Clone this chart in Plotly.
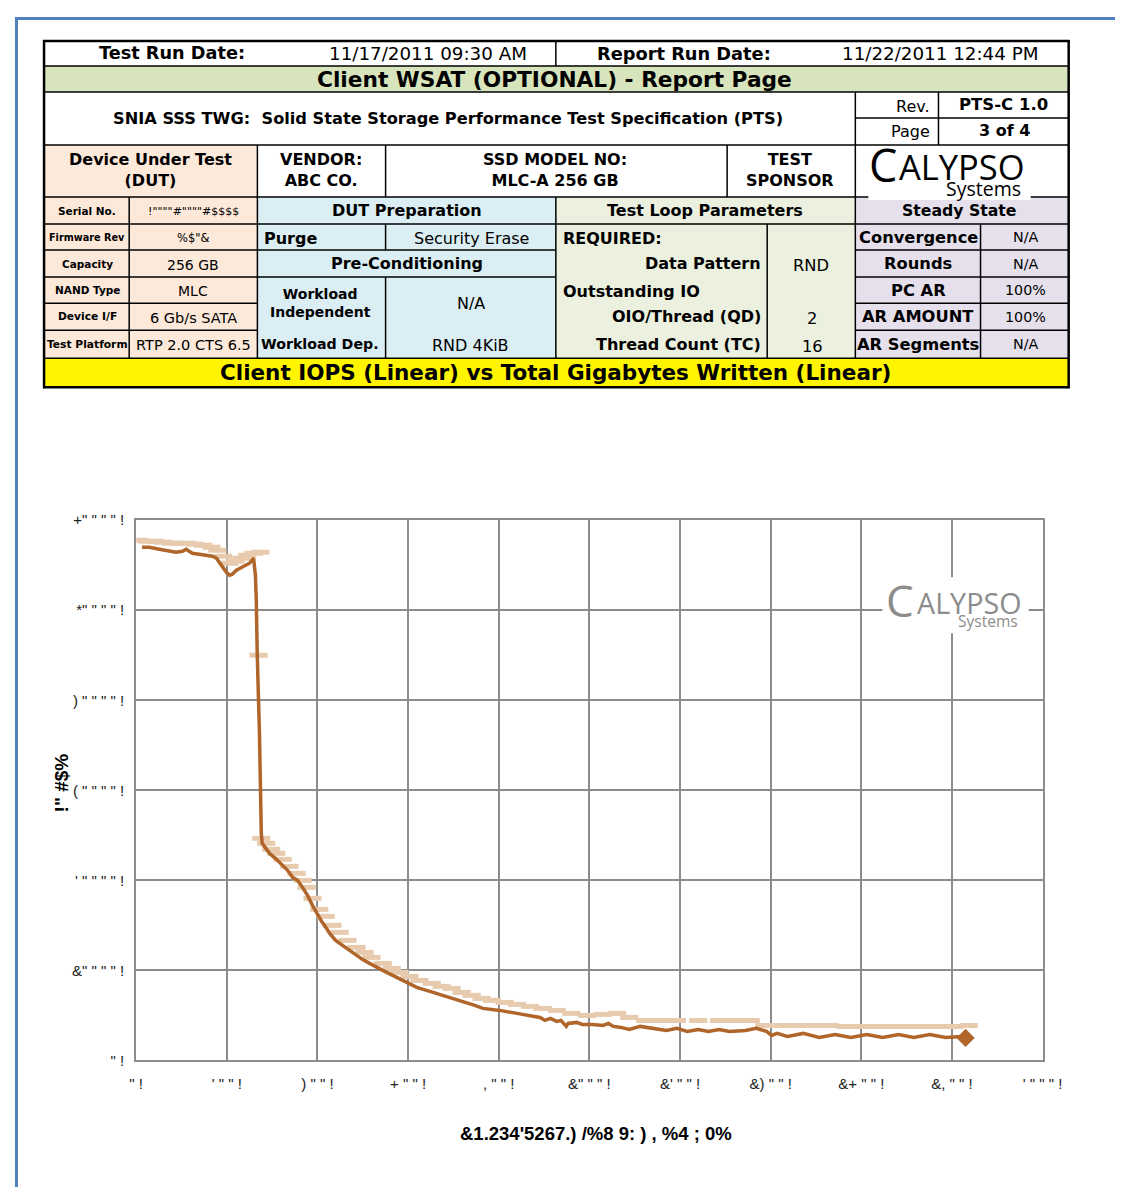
import plotly.graph_objects as go

# ---- chart data ----
gb_written = [13, 29, 51, 73, 88, 102, 110, 124, 139, 155, 168, 177, 183, 190, 199, 206, 212, 221, 234, 250,
              259, 263, 265, 267, 272, 274, 276, 278, 285, 294, 307, 323, 334, 345, 356, 367, 378, 389, 398, 409,
              420, 427, 440, 455, 471, 486, 499, 515, 530, 544, 566, 588, 603, 619, 648, 670, 692, 725, 747, 765,
              802, 840, 869, 891, 902, 914, 928, 937, 949, 953, 972, 984, 1007, 1030, 1042, 1053, 1070, 1088, 1112,
              1147, 1170, 1193, 1216, 1240, 1263, 1286, 1309, 1344, 1368, 1391, 1402, 1414, 1437, 1472, 1507,
              1542, 1577, 1612, 1647, 1682, 1716, 1751, 1786, 1821, 1830]
iops = [57000, 57000, 56778, 56556, 56444, 56556, 56778, 56333, 56222, 56111, 56000, 55778, 55333, 54778, 54222,
        53889, 54000, 54444, 54778, 55222, 55778, 53889, 51111, 45222, 36333, 28889, 25222, 24111, 23556, 23000,
        22444, 21667, 21111, 20333, 20000, 19222, 18333, 17222, 16333, 15444, 14667, 14111, 13333, 12778, 12222,
        11667, 11222, 10778, 10333, 10000, 9444, 8889, 8444, 8111, 7667, 7333, 7000, 6444, 6111, 5778, 5556,
        5222, 5000, 4778, 4444, 4667, 4333, 4444, 3778, 4111, 4222, 4000, 4000, 3889, 4111, 3778, 3667, 3444,
        3778, 3556, 3333, 3556, 3222, 3444, 3222, 3444, 3222, 3333, 3556, 3222, 2778, 3000, 2667, 3000, 2556,
        2889, 2556, 2889, 2556, 2889, 2556, 2889, 2556, 2667, 2500]

# lighter (shadow) series drawn as dash markers
gb_shadow = [7, 24, 42, 60, 77, 95, 113, 130, 148, 166, 179, 192, 206, 219, 232, 245, 259, 274, 270,
             276, 287, 298, 309, 323, 338, 354, 367, 376, 389, 404, 418, 433, 449, 466, 486, 504, 519, 544, 564,
             581, 603, 625, 652, 674, 696, 718, 740, 762, 785, 813, 840, 869, 897, 928, 960, 995, 1030, 1061,
             1088, 1123, 1158, 1193, 1240, 1286, 1321, 1356, 1386, 1426, 1461, 1495, 1530, 1565, 1600, 1635,
             1670, 1705, 1740, 1775, 1805, 1837]
iops_shadow = [57778, 57667, 57667, 57556, 57444, 57444, 57444, 57333, 57222, 57000, 56667, 56000, 55222, 55444,
               55778, 56111, 56333, 56444, 45000,
               24667, 24111, 23444, 23000, 22333, 21556, 20778, 20000, 19222, 18000, 16778, 16000, 15000, 14222,
               13333, 12556, 12000, 11444, 10778, 10222, 9778, 9333, 8889, 8556, 8222, 8000, 7556, 7222, 6889,
               6667, 6444, 6222, 6000, 5778, 5556, 5222, 5000, 5111, 5222, 4778, 4444, 4444, 4444, 4444, 4444,
               4444, 4444, 3889, 3889, 3889, 3889, 3889, 3778, 3778, 3778, 3778, 3778, 3778, 3778, 3778, 3889]

x_ticks = [0, 200, 400, 600, 800, 1000, 1200, 1400, 1600, 1800, 2000]
x_tick_text = ['" !', '\' " " !', ') " " !', '+ " " !', ', " " !', '&" " " !', '&\' " " !', '&) " " !',
               '&+ " " !', '&, " " !', '\' " " " !']
y_ticks = [0, 10000, 20000, 30000, 40000, 50000, 60000]
y_tick_text = ['" !', '&" " " " !', '\' " " " " !', '( " " " " !', ') " " " " !', '*" " " " !', '+" " " " !']
x_title = "&1.234'5267.) /%8 9: ) , %4 ; 0%"
y_title = '!" #$%'

# figure size inside the 8px body margin; the snapshot comes back slightly
# shrunk and offset, so page positions are mapped from the wanted picture positions
W, H = 1127, 1187
OFF = 8
SX, BX = 0.9745, 8.2
SY, BY = 0.9853, 9.1
FONT = "DejaVu Sans"
LOGO = "Open Sans"


def X(t):
    return ((t - BX) / SX - OFF) / W


def Y(t):
    return 1 - ((t - BY) / SY - OFF) / H


fig = go.Figure()

fig.add_trace(go.Scatter(x=gb_shadow, y=iops_shadow, mode="markers",
                         marker=dict(symbol="line-ew", size=13, line=dict(width=5, color="#E8CBAE")),
                         hoverinfo="skip"))
fig.add_trace(go.Scatter(x=gb_written, y=iops, mode="lines",
                         line=dict(color="#B0652A", width=3.5), hoverinfo="skip"))
fig.add_trace(go.Scatter(x=gb_written[-1:], y=iops[-1:], mode="markers",
                         marker=dict(symbol="diamond", size=14, color="#B0652A"), hoverinfo="skip"))

grid = "#8C8C8C"
tick_font = dict(family="Liberation Sans", size=15, color="#222")
fig.update_layout(
    width=W, height=H, margin=dict(l=0, r=0, t=0, b=0),
    paper_bgcolor="white", plot_bgcolor="white", showlegend=False,
    font=dict(family=FONT, color="black"),
    xaxis=dict(domain=[X(137), X(1042)], range=[0, 2000], tickvals=x_ticks, ticktext=x_tick_text,
               showgrid=True, gridcolor=grid, gridwidth=2, showline=True, linecolor=grid, linewidth=2,
               mirror=True, zeroline=False, ticks="", ticklabelstandoff=9, tickfont=tick_font),
    yaxis=dict(domain=[Y(1060), Y(520)], range=[0, 60000], tickvals=y_ticks, ticktext=y_tick_text,
               showgrid=True, gridcolor=grid, gridwidth=2, showline=True, linecolor=grid, linewidth=2,
               mirror=True, zeroline=False, ticks="", ticklabelstandoff=7, tickfont=tick_font),
)

shapes = []
annots = []


def rect(x0, y0, x1, y1, color):
    shapes.append(dict(type="rect", xref="paper", yref="paper", x0=X(x0), x1=X(x1), y0=Y(y0), y1=Y(y1),
                       fillcolor=color, line=dict(width=0), layer="above"))


def hline(y, x0, x1, w=1.5, color="black"):
    shapes.append(dict(type="line", xref="paper", yref="paper", x0=X(x0), x1=X(x1), y0=Y(y), y1=Y(y),
                       line=dict(color=color, width=w), layer="above"))


def vline(x, y0, y1, w=1.5, color="black"):
    shapes.append(dict(type="line", xref="paper", yref="paper", x0=X(x), x1=X(x), y0=Y(y0), y1=Y(y1),
                       line=dict(color=color, width=w), layer="above"))


def text(x, y, s, size=16, bold=False, anchor="center", color="black", family=FONT):
    if bold:
        s = "<b>" + s + "</b>"
    annots.append(dict(xref="paper", yref="paper", x=X(x), y=Y(y), text=s, showarrow=False,
                       xanchor=anchor, yanchor="middle", align=anchor if anchor != "center" else "center",
                       font=dict(size=size, family=family, color=color)))


# page border (as close to the top-left corner as the figure reaches)
shapes.append(dict(type="line", xref="paper", yref="paper", x0=0, x1=1, y0=1 - 1.5 / H, y1=1 - 1.5 / H,
                   line=dict(color="#4F81BD", width=3), layer="above"))
shapes.append(dict(type="line", xref="paper", yref="paper", x0=1.5 / W, x1=1.5 / W, y0=0, y1=1,
                   line=dict(color="#4F81BD", width=3), layer="above"))

# cell fills
rect(45, 66, 1068, 92, "#D7E4BC")
rect(45, 145, 258, 358, "#FDE9D9")
rect(258, 197, 556, 358, "#DAEEF3")
rect(556, 197, 855, 358, "#EBF1DE")
rect(855, 197, 1068, 358, "#E5E0EC")
rect(45, 358, 1068, 387, "#FFF500")

# table lines
for yy in (66, 92, 145, 197, 358):
    hline(yy, 45, 1068)
hline(118, 855, 1068)
for yy in (224, 250, 277, 303, 330):
    hline(yy, 45, 258)
    hline(yy, 855, 1068)
for yy in (224, 250, 277):
    hline(yy, 258, 556)
hline(224, 556, 855)
vline(556, 41, 66)
vline(855, 92, 145)
vline(938, 92, 145)
for xx in (258, 386, 727, 855):
    vline(xx, 145, 197)
for xx in (130, 258, 556, 855):
    vline(xx, 197, 358)
vline(386, 224, 250)
vline(386, 277, 358)
vline(767, 224, 358)
vline(980, 224, 358)
# outer frame
hline(41, 44, 1069, w=2.5)
hline(387, 44, 1069, w=2.5)
vline(45, 40, 388, w=2.5)
vline(1068, 40, 388, w=2.5)
# white band under the logo
rect(868, 193, 1030, 200, "white")
# white box behind the chart watermark
rect(882, 577, 1028, 633, "white")

fig.update_layout(shapes=shapes)

# header rows
text(173, 53, "Test Run Date:", 17.7, True)
text(428, 53, "11/17/2011 09:30 AM", 18.3)
text(684, 53, "Report Run Date:", 17.8, True)
text(940, 53, "11/22/2011 12:44 PM", 18.3)
text(555, 79, "Client WSAT (OPTIONAL) - Report Page", 21.7, True)
text(448, 118, "SNIA SSS TWG:  Solid State Storage Performance Test Specification (PTS)", 16.2, True)
text(932, 106, "Rev.", 16, anchor="right")
text(1003, 104, "PTS-C 1.0", 16.5, True)
text(932, 131, "Page", 16, anchor="right")
text(1004, 130, "3 of 4", 16, True)
text(151, 170, "Device Under Test<br>(DUT)", 16, True)
text(322, 170, "VENDOR:<br>ABC CO.", 16, True)
text(555, 170, "SSD MODEL NO:<br>MLC-A 256 GB", 16, True)
text(790, 170, "TEST<br>SPONSOR", 16, True)

# logo in the header
text(899, 164, "C", 45, anchor="right", family=LOGO)
text(897, 166, "ALYPSO", 34.5, anchor="left", family=LOGO)
text(983, 188, "Systems", 19.5, family=LOGO)

# DUT block
rows = [210.5, 237, 263.5, 290, 316.5, 344]
dut_labels = ["Serial No.", "Firmware Rev", "Capacity", "NAND Type", "Device I/F", "Test Platform"]
dut_sizes = [10.5, 9.7, 10.5, 10.5, 10.7, 10.7]
dut_values = ['!""""#""""#$$$$', '%$"&', "256 GB", "MLC", "6 Gb/s SATA", "RTP 2.0 CTS 6.5"]
val_sizes = [11, 11.5, 14, 14, 14.5, 14.5]
for r, lab, ls, v, vs in zip(rows, dut_labels, dut_sizes, dut_values, val_sizes):
    text(88, r, lab, ls, True)
    text(194, r + 1, v, vs)

# DUT preparation
text(407, rows[0], "DUT Preparation", 16, True)
text(263, rows[1] + 1, "Purge", 16, True, anchor="left")
text(472, rows[1] + 1, "Security Erase", 16)
text(407, rows[2], "Pre-Conditioning", 16, True)
text(321, 303, "Workload<br>Independent", 14, True)
text(471, 303, "N/A", 16)
text(321, 344, "Workload Dep.", 14.2, True)
text(471, 345, "RND 4KiB", 16)

# test loop parameters
text(705, rows[0], "Test Loop Parameters", 16, True)
text(561, rows[1] + 1, "REQUIRED:", 16, True, anchor="left")
text(763, rows[2], "Data Pattern", 16, True, anchor="right")
text(811, 265, "RND", 16.3)
text(561, 291, "Outstanding IO", 16, True, anchor="left")
text(763, 316, "OIO/Thread (QD)", 16, True, anchor="right")
text(812, 318, "2", 16.3)
text(763, 344, "Thread Count (TC)", 16, True, anchor="right")
text(812, 346, "16", 16.3)

# steady state
text(959, rows[0], "Steady State", 15.7, True)
ss_labels = ["Convergence", "Rounds", "PC AR", "AR AMOUNT", "AR Segments"]
ss_values = ["N/A", "N/A", "100%", "100%", "N/A"]
for r, lab, v in zip(rows[1:], ss_labels, ss_values):
    text(918, r, lab, 16.3, True)
    text(1025, r, v, 14.3)

text(556, 372, "Client IOPS (Linear) vs Total Gigabytes Written (Linear)", 21.5, True)

# chart watermark and axis titles
text(916, 600, "C", 44, anchor="right", color="#8C8C8C", family=LOGO)
text(915, 602, "ALYPSO", 28.7, anchor="left", color="#8C8C8C", family=LOGO)
text(987, 621, "Systems", 15.5, color="#8C8C8C", family=LOGO)
annots.append(dict(xref="paper", yref="paper", x=X(62), y=Y(783), text="<b>" + y_title + "</b>",
                   showarrow=False, textangle=-90, xanchor="center", yanchor="middle",
                   font=dict(size=19, family="Liberation Sans", color="black")))
text(596, 1133, x_title, 18.5, True, family="Liberation Sans")

fig.update_layout(annotations=annots)

fig.write_html("out.html", config={"displayModeBar": False})
